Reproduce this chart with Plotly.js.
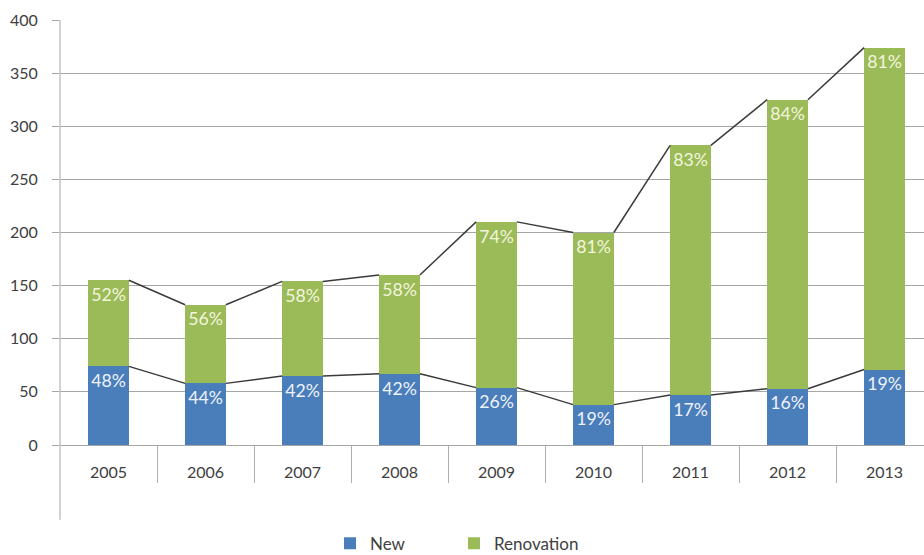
<!DOCTYPE html>
<html><head><meta charset="utf-8">
<script src="https://cdn.plot.ly/plotly-3.0.1.min.js"></script>
<style>body{margin:0;background:#fff}#c{width:924px;height:555px}</style>
</head><body><div id="c"></div>
<script>
const years = ['2005','2006','2007','2008','2009','2010','2011','2012','2013'];
const newVals = [74, 58, 65, 67, 54, 38, 47, 53, 71];
const renovationVals = [81, 74, 89, 93, 156, 162, 235, 272, 303];
const newPct = ['48%','44%','42%','42%','26%','19%','17%','16%','19%'];
const renovationPct = ['52%','56%','58%','58%','74%','81%','83%','84%','81%'];
const yTicks = [0,50,100,150,200,250,300,350,400];

const BW = 0.42;
const idx = years.map((_, i) => i);
const totals = newVals.map((v, i) => v + renovationVals[i]);

function seriesLine(vals) {
  const xs = [], ys = [];
  for (let i = 0; i < vals.length - 1; i++) {
    xs.push(i + BW / 2, i + 1 - BW / 2, null);
    ys.push(vals[i], vals[i + 1], null);
  }
  return {x: xs, y: ys, type: 'scatter', mode: 'lines', showlegend: false,
          line: {color: '#3a3a3a', width: 1.5}, hoverinfo: 'skip', connectgaps: false};
}

const font = 'Lato, "Open Sans", sans-serif';
const data = [
  {x: idx, y: newVals, type: 'bar', name: 'New', width: BW, legend: 'legend',
   marker: {color: '#4A7EBB'}, text: newPct, textposition: 'inside',
   insidetextanchor: 'end', textangle: 0,
   textfont: {color: '#EEF2FA', size: 18, family: font}},
  {x: idx, y: renovationVals, type: 'bar', name: 'Renovation', width: BW, legend: 'legend2',
   marker: {color: '#9BBB59'}, text: renovationPct, textposition: 'inside',
   insidetextanchor: 'end', textangle: 0,
   textfont: {color: '#F3F5DC', size: 18, family: font}},
  seriesLine(newVals),
  seriesLine(totals)
];

const legendBase = {orientation: 'h', xanchor: 'left', y: -0.232, yanchor: 'middle',
                    font: {size: 17, color: '#404040'}, bgcolor: 'rgba(0,0,0,0)'};

const layout = {
  width: 924, height: 555,
  margin: {l: 60, r: 0, t: 20, b: 110, autoexpand: false},
  paper_bgcolor: '#fff', plot_bgcolor: '#fff',
  barmode: 'stack',
  font: {family: font, color: '#404040', size: 15},
  xaxis: {
    range: [-0.5, 8.407], tickmode: 'array', tickvals: idx, ticktext: years,
    showgrid: false, zeroline: false, showline: true, linecolor: '#a6a6a6', linewidth: 1,
    ticks: '', ticklabelstandoff: 13, tickfont: {size: 16, color: '#404040'},
    minor: {tickmode: 'array', tickvals: idx.slice(0, -1).map(i => i + 0.5),
            ticks: 'outside', ticklen: 37, tickcolor: '#b0b0b0', tickwidth: 1, showgrid: false},
    fixedrange: true
  },
  yaxis: {
    range: [0, 400], tickmode: 'array', tickvals: yTicks,
    showgrid: true, gridcolor: '#a6a6a6', gridwidth: 1, zeroline: false,
    showline: false, ticks: 'outside', ticklen: 7, tickcolor: '#a6a6a6',
    ticklabelstandoff: 11, tickfont: {size: 16, color: '#404040'}, fixedrange: true
  },
  shapes: [{type: 'line', xref: 'paper', yref: 'paper', x0: 0, x1: 0, y0: 1, y1: -0.176,
            line: {color: '#a6a6a6', width: 1}}],
  legend: Object.assign({}, legendBase, {x: 0.3125}),
  legend2: Object.assign({}, legendBase, {x: 0.456}),
  showlegend: true
};

Plotly.newPlot('c', data, layout, {displayModeBar: false, staticPlot: true});
</script></body></html>
